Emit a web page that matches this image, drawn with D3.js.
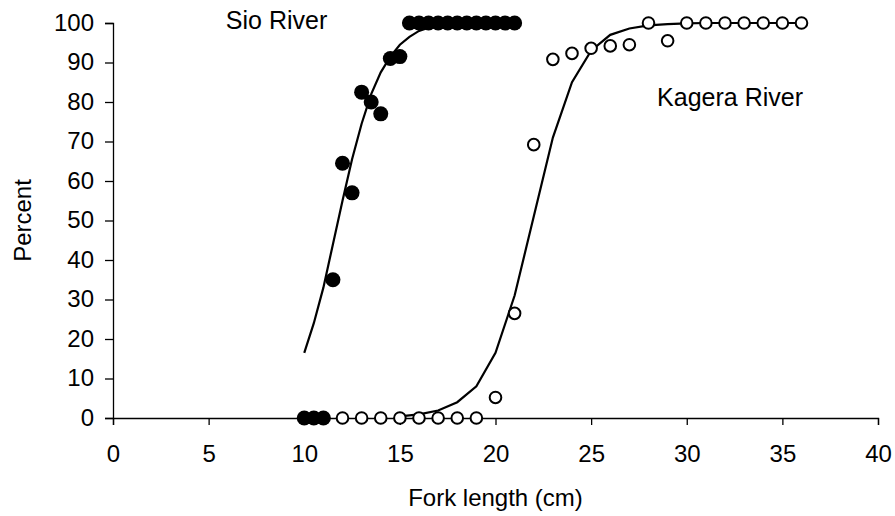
<!DOCTYPE html>
<html>
<head>
<meta charset="utf-8">
<script src="https://cdn.jsdelivr.net/npm/d3@7"></script>
<style>
  body { margin: 0; background: #fff; }
  text { font-family: "Liberation Sans", Arial, sans-serif; fill: #000; }
</style>
</head>
<body>
<div id="chart"></div>
<script>
// observed points, Sio River (filled) and Kagera River (open)
const sioX = [10, 10.5, 11, 11.5, 12, 12.5, 13, 13.5, 14, 14.5, 15,
              15.5, 16, 16.5, 17, 17.5, 18, 18.5, 19, 19.5, 20, 20.5, 21];
const sioY = [0, 0, 0, 35, 64.5, 57, 82.5, 80, 77, 91, 91.5,
              100, 100, 100, 100, 100, 100, 100, 100, 100, 100, 100, 100];

const kageraX = [12, 13, 14, 15, 16, 17, 18, 19, 20, 21, 22, 23, 24, 25, 26, 27,
                 28, 29, 30, 31, 32, 33, 34, 35, 36];
const kageraY = [0, 0, 0, 0, 0, 0, 0, 0, 5.2, 26.5, 69.2, 90.8, 92.3, 93.6, 94.2, 94.5,
                 100, 95.5, 100, 100, 100, 100, 100, 100, 100];

// fitted curves
const sioFitX = [10, 10.5, 11, 11.5, 12, 12.5, 13, 13.5, 14, 14.5, 15, 15.5, 16,
                 16.5, 17, 17.5, 18, 18.5, 19, 19.5, 20, 20.5, 21];
const sioFitY = [16.5, 24, 33, 44, 55, 65.5, 74.5, 82, 87.5, 91.5, 94.5, 96.5, 98,
                 98.8, 99.3, 99.6, 99.8, 99.9, 100, 100, 100, 100, 100];

const kageraFitX = [15, 16, 17, 18, 19, 20, 21, 22, 23, 24, 25, 26, 27, 28,
                    29, 30, 31, 32, 33, 34, 35, 36];
const kageraFitY = [0.4, 0.9, 1.9, 4, 8, 16.5, 31, 51, 71, 85, 93, 97, 98.6, 99.4,
                    99.7, 99.9, 100, 100, 100, 100, 100, 100];

const xTicks = [0, 5, 10, 15, 20, 25, 30, 35, 40];
const yTicks = [0, 10, 20, 30, 40, 50, 60, 70, 80, 90, 100];

const width = 895, height = 516;
const margin = { top: 23, right: 17, bottom: 98, left: 113 };
const w = width - margin.left - margin.right,
      h = height - margin.top - margin.bottom;

const svg = d3.select("#chart")
  .append("svg")
  .attr("width", width)
  .attr("height", height);

const g = svg.append("g")
  .attr("transform", `translate(${margin.left},${margin.top})`);

const x = d3.scaleLinear().domain([0, 40]).range([0, w]);
const y = d3.scaleLinear().domain([0, 100]).range([h, 0]);

// axes
const xAxis = g.append("g")
  .attr("transform", `translate(0,${h})`)
  .call(d3.axisBottom(x).tickValues(xTicks).tickSize(7).tickPadding(20));
const yAxis = g.append("g")
  .call(d3.axisLeft(y).tickValues(yTicks).tickSize(8).tickPadding(11));

[xAxis, yAxis].forEach(a => {
  a.select(".domain").attr("stroke", "#000").attr("stroke-width", 1.3);
  a.selectAll(".tick line").attr("stroke", "#000").attr("stroke-width", 1.3);
  a.selectAll(".tick text")
    .style("font-family", '"Liberation Sans", Arial, sans-serif')
    .style("font-size", "24px")
    .attr("fill", "#000");
});
yAxis.selectAll(".tick text").attr("dy", "0.3em");

// fitted lines
const line = d3.line().x(d => x(d[0])).y(d => y(d[1]));

g.append("path")
  .datum(d3.zip(sioFitX, sioFitY))
  .attr("fill", "none")
  .attr("stroke", "#000")
  .attr("stroke-width", 2.2)
  .attr("d", line);

g.append("path")
  .datum(d3.zip(kageraFitX, kageraFitY))
  .attr("fill", "none")
  .attr("stroke", "#000")
  .attr("stroke-width", 2.2)
  .attr("d", line);

// points
g.selectAll("circle.kagera")
  .data(d3.zip(kageraX, kageraY))
  .enter()
  .append("circle")
  .attr("class", "kagera")
  .attr("cx", d => x(d[0]))
  .attr("cy", d => y(d[1]))
  .attr("r", 5.8)
  .attr("fill", "#fff")
  .attr("stroke", "#000")
  .attr("stroke-width", 2);

g.selectAll("circle.sio")
  .data(d3.zip(sioX, sioY))
  .enter()
  .append("circle")
  .attr("class", "sio")
  .attr("cx", d => x(d[0]))
  .attr("cy", d => y(d[1]))
  .attr("r", 7.5)
  .attr("fill", "#000");

// labels
g.append("text")
  .attr("x", x(5.9))
  .attr("y", y(98.5))
  .style("font-size", "25px")
  .text("Sio River");

g.append("text")
  .attr("x", x(28.45))
  .attr("y", y(79))
  .style("font-size", "25px")
  .text("Kagera River");

svg.append("text")
  .attr("x", margin.left + x(20))
  .attr("y", 506)
  .attr("text-anchor", "middle")
  .style("font-size", "24px")
  .text("Fork length (cm)");

svg.append("text")
  .attr("transform", `translate(31,${margin.top + y(50)}) rotate(-90)`)
  .attr("text-anchor", "middle")
  .style("font-size", "24px")
  .text("Percent");
</script>
</body>
</html>
